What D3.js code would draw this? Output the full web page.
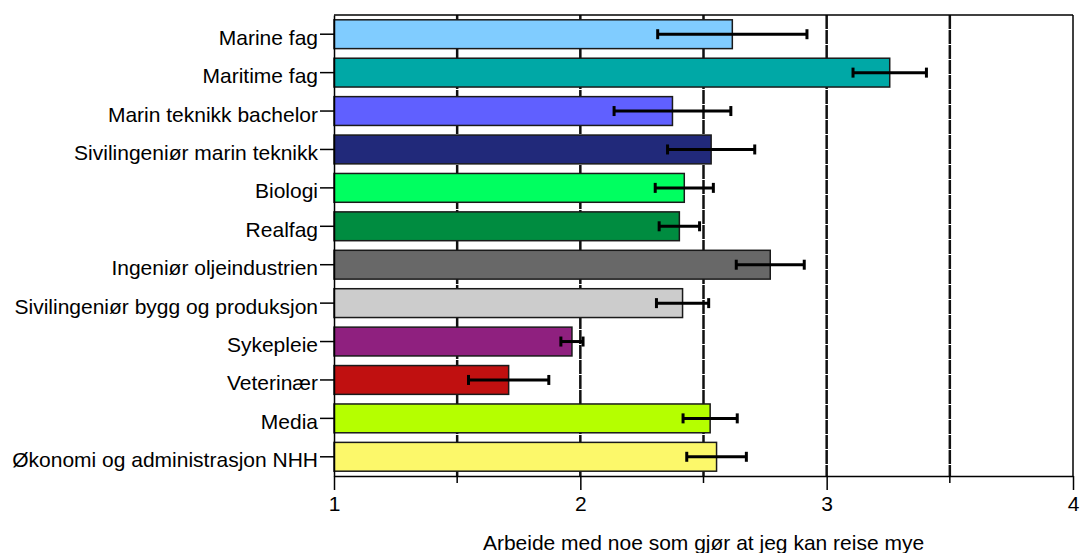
<!DOCTYPE html>
<html><head><meta charset="utf-8">
<script src="https://cdn.jsdelivr.net/npm/d3@7"></script>
<style>
html,body{margin:0;padding:0;background:#fff;}
text{font-family:"Liberation Sans",Arial,sans-serif;fill:#000;}
</style></head>
<body>
<svg id="chart" width="1082" height="553"></svg>
<script>
const categories = ["Marine fag","Maritime fag","Marin teknikk bachelor","Sivilingeniør marin teknikk","Biologi","Realfag","Ingeniør oljeindustrien","Sivilingeniør bygg og produksjon","Sykepleie","Veterinær","Media","Økonomi og administrasjon NHH"];
const values = [2.617, 3.256, 2.374, 2.531, 2.422, 2.402, 2.771, 2.415, 1.966, 1.709, 2.527, 2.553];
const errors = [0.303, 0.149, 0.237, 0.177, 0.118, 0.082, 0.138, 0.106, 0.045, 0.163, 0.110, 0.121];
const colors = ["#80CCFF","#00A8A6","#6060FF","#21297A","#00FF60","#008C40","#686868","#CCCCCC","#8F207F","#C01010","#B5FF00","#FCF86A"];
const majorTicks = [1,2,3,4];
const minorTicks = [1.5,2.5,3.5];
const gridValues = [1.5,2,2.5,3,3.5];
const xTitle = "Arbeide med noe som gjør at jeg kan reise mye";

const svg = d3.select("#chart");
const L=334, R=1073, T=15, B=476;
const FS = "21px";
const x = d3.scaleLinear().domain([1,4]).range([L,R]);
const y = d3.scaleBand().domain(categories).range([T,B]).paddingInner(0.25).paddingOuter(0.125);

// grid
svg.append("g").selectAll("line").data(gridValues).join("line")
  .attr("x1",d=>x(d)).attr("x2",d=>x(d)).attr("y1",T).attr("y2",B)
  .attr("stroke","#111").attr("stroke-width",2.5).attr("stroke-dasharray","14,1");

// frame top/right
svg.append("line").attr("x1",L).attr("x2",R).attr("y1",T).attr("y2",T).attr("stroke","#000").attr("stroke-width",1.5);
svg.append("line").attr("x1",R).attr("x2",R).attr("y1",T).attr("y2",B).attr("stroke","#000").attr("stroke-width",1.5);

// bars
svg.append("g").selectAll("rect").data(categories).join("rect")
  .attr("x",x(1)).attr("y",d=>y(d)).attr("height",y.bandwidth())
  .attr("width",(d,i)=>x(values[i])-x(1))
  .attr("fill",(d,i)=>colors[i]).attr("stroke","#1a1a1a").attr("stroke-width",1.5);

// error bars
const eg = svg.append("g").attr("stroke","#000").attr("stroke-width",3);
categories.forEach((c,i)=>{
  const cy = y(c)+y.bandwidth()/2;
  const x0 = x(values[i]-errors[i]), x1 = x(values[i]+errors[i]);
  eg.append("line").attr("x1",x0).attr("x2",x1).attr("y1",cy).attr("y2",cy);
  eg.append("line").attr("x1",x0).attr("x2",x0).attr("y1",cy-5).attr("y2",cy+5);
  eg.append("line").attr("x1",x1).attr("x2",x1).attr("y1",cy-5).attr("y2",cy+5);
});

// left axis
const ya = svg.append("g").attr("transform",`translate(${L},0)`)
  .call(d3.axisLeft(y).tickSizeInner(14).tickSizeOuter(0).tickPadding(2));
ya.select(".domain").attr("stroke","#000").attr("stroke-width",1.5);
ya.selectAll(".tick line").attr("stroke","#000").attr("stroke-width",1.5);
ya.selectAll(".tick text").style("font-size",FS).attr("font-family","Liberation Sans, Arial, sans-serif").attr("fill","#000").attr("dy","0.5em");

// bottom axis
const xa = svg.append("g").attr("transform",`translate(0,${B})`)
  .call(d3.axisBottom(x).tickValues(majorTicks).tickFormat(d3.format("d")).tickSizeInner(14).tickSizeOuter(0).tickPadding(6));
xa.select(".domain").attr("stroke","#000").attr("stroke-width",1.5);
xa.selectAll(".tick line").attr("stroke","#000").attr("stroke-width",1.5);
xa.selectAll(".tick text").style("font-size",FS).attr("font-family","Liberation Sans, Arial, sans-serif").attr("fill","#000");
svg.append("g").selectAll("line").data(minorTicks).join("line")
  .attr("x1",d=>x(d)).attr("x2",d=>x(d)).attr("y1",B).attr("y2",B+7)
  .attr("stroke","#000").attr("stroke-width",1.5);

svg.append("text").attr("x",(L+R)/2).attr("y",550).attr("text-anchor","middle")
  .style("font-size",FS).text(xTitle);
</script>
</body></html>
